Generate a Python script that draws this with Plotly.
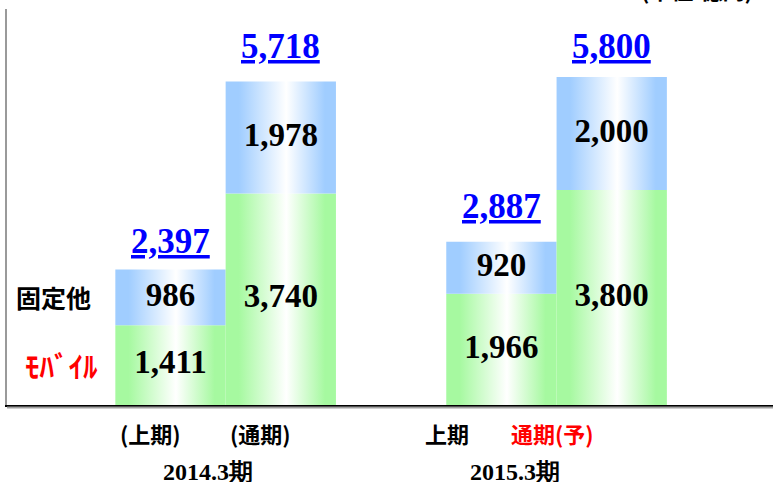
import plotly.graph_objects as go

# Segment values (億円)
periods = ["(上期)", "(通期)", "上期", "通期(予)"]
period_colors = ["#000000", "#000000", "#000000", "#ff0000"]
years = ["2014.3期", "2015.3期"]
mobile = [1411, 3740, 1966, 3800]
fixed_other = [986, 1978, 920, 2000]
totals = [2397, 5718, 2887, 5800]

# Bar slots on a numeric axis: two bars per fiscal year, a gap between years
positions = [0, 1, 3, 4]
bar_width = 1.0

GREEN = "#a6f9a0"
BLUE = "#a0cdff"
SERIF = "Liberation Serif, Times New Roman, serif"
CJK = "Noto Sans CJK JP, sans-serif"


def gradient(color):
    return [[0.0, color], [0.12, color], [0.55, "#ffffff"], [0.9, color], [1.0, color]]


fig = go.Figure()

for x, lo, hi in zip(positions, mobile, fixed_other):
    for y0, y1, col in ((0, lo, GREEN), (lo, lo + hi, BLUE)):
        xl, xr = x - bar_width / 2, x + bar_width / 2
        fig.add_trace(go.Scatter(
            x=[xl, xr, xr, xl, xl], y=[y0, y0, y1, y1, y0],
            mode="lines", fill="toself", line=dict(width=0),
            fillgradient=dict(type="horizontal", colorscale=gradient(col)),
            hoverinfo="skip", showlegend=False,
        ))

# Segment value labels, centred in each segment
mid_x = positions + positions
mid_y = [v / 2 for v in mobile] + [m + f / 2 for m, f in zip(mobile, fixed_other)]
labels = [f"{v:,}" for v in mobile + fixed_other]
fig.add_trace(go.Scatter(
    x=mid_x, y=mid_y, text=labels, mode="text",
    textfont=dict(family=SERIF, size=33, color="#000000", weight="bold"),
    hoverinfo="skip", showlegend=False,
))

# Totals above each bar, blue and underlined
total_lift = [6, 14, 14, 9]
for x, t, lift in zip(positions, totals, total_lift):
    fig.add_annotation(
        x=x, y=t, xref="x", yref="y", text=f"<u>{t:,}</u>",
        showarrow=False, yanchor="bottom", yshift=lift,
        font=dict(family=SERIF, size=35, color="#0000ff", weight="bold"),
    )

# Period labels under each bar
period_shift = [-20, -20, -54, -59]
for x, p, c, s in zip(positions, periods, period_colors, period_shift):
    fig.add_annotation(
        x=x, y=0, xref="x", yref="paper", text=p, showarrow=False,
        yanchor="middle", yshift=-28, xshift=s,
        font=dict(family=CJK, size=22, color=c, weight="bold"),
    )

# Fiscal year labels
year_centers = [0.5, 3.5]
year_shift = [-18, -42]
for x, yl, s in zip(year_centers, years, year_shift):
    fig.add_annotation(
        x=x, y=0, xref="x", yref="paper", text=yl, showarrow=False,
        yanchor="top", yshift=-52, xshift=s,
        font=dict(family=SERIF, size=24, color="#000000", weight="bold"),
    )

# Series names on the left
fig.add_annotation(
    x=0, y=mobile[0] + fixed_other[0] / 2, xref="paper", yref="y",
    text="固定他", showarrow=False, xanchor="center", xshift=46,
    font=dict(family=CJK, size=25, color="#000000", weight="bold"),
)
fig.add_annotation(
    x=0, y=mobile[0] / 2, xref="paper", yref="y",
    text="ﾓﾊﾞｲﾙ", showarrow=False, xanchor="center", xshift=54,
    font=dict(family=CJK, size=29, color="#ff0000", weight="bold"),
)

# Unit note at the top right
fig.add_annotation(
    x=1, y=1, xref="paper", yref="paper", text="(単位:億円)",
    showarrow=False, xanchor="right", yanchor="bottom", xshift=-18, yshift=2,
    font=dict(family=CJK, size=22, color="#000000", weight="bold"),
)

# Soft grey shadow under the black baseline
fig.add_shape(type="line", xref="paper", yref="paper", x0=0, x1=1,
              y0=-0.006, y1=-0.006, line=dict(color="#a0a0a0", width=2))

fig.update_xaxes(range=[-1.482, 5.462], showgrid=False, zeroline=False,
                 showticklabels=False, ticks="", showline=True,
                 linecolor="#000000", linewidth=2)
fig.update_yaxes(range=[0, 7000], showgrid=False, zeroline=False,
                 showticklabels=False, ticks="", showline=True,
                 linecolor="#9a9a9a", linewidth=2)

fig.update_layout(
    width=773, height=482,
    margin=dict(l=7, r=0, t=9, b=77),
    paper_bgcolor="#ffffff", plot_bgcolor="#ffffff",
    showlegend=False,
)

fig.write_html("out.html")
